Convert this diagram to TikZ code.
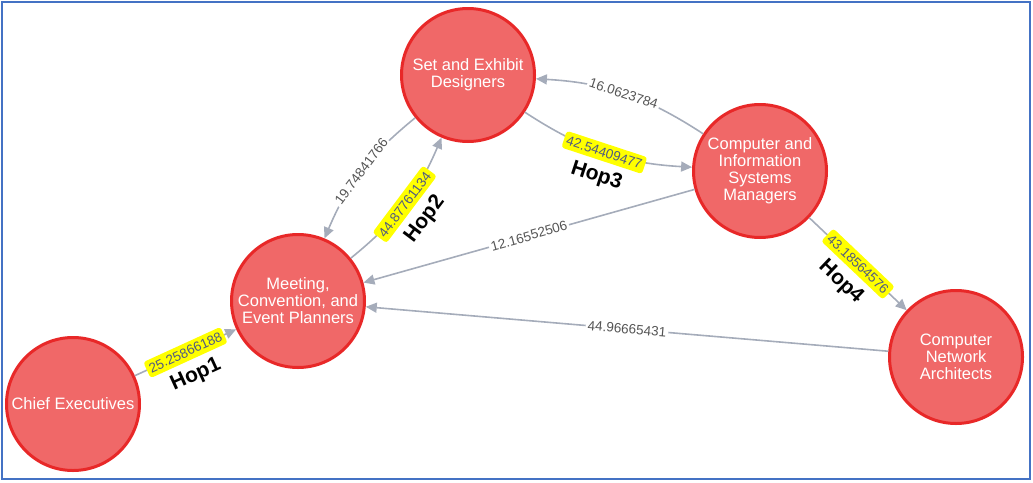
\documentclass[tikz,border=0pt]{standalone}
\usepackage{fontspec}
\setmainfont{Liberation Sans}
\usetikzlibrary{positioning,arrows.meta}
\usepackage{xcolor}
\definecolor{nodefill}{RGB}{240,104,104}
\definecolor{nodeline}{RGB}{232,40,40}
\definecolor{edgeline}{RGB}{165,172,186}
\definecolor{edgetext}{RGB}{85,85,85}
\definecolor{hoptext}{RGB}{80,90,130}
\definecolor{hopfill}{RGB}{255,255,0}
\definecolor{frameblue}{RGB}{68,114,196}

\tikzset{
  job/.style={circle, draw=nodeline, fill=nodefill, line width=3pt,
    minimum size=133pt, inner sep=0pt, text=white, align=center,
    font=\fontsize{16.5}{17}\selectfont},
  link/.style={draw=edgeline, line width=1.6pt, -{Triangle[length=11pt,width=10pt]}},
  weight/.style={sloped, fill=white, text=edgetext, inner sep=2pt,
    font=\fontsize{13.5}{13.5}\selectfont},
  hopweight/.style={sloped, fill=hopfill, text=hoptext, rounded corners=3pt,
    inner xsep=3pt, inner ysep=4pt, font=\fontsize{13.5}{13.5}\selectfont},
  hoptag/.style={sloped, below=15pt, inner sep=0pt,
    font=\fontsize{21}{21}\selectfont\bfseries}
}

\begin{document}
\begin{tikzpicture}[x=1pt, y=-1pt]
\useasboundingbox (0,0) rectangle (1033,482);
\draw[frameblue, line width=1.5pt] (2,2) rectangle (1030,479);

% occupations
\node[job] (chief) at (73,404) {Chief Executives};
\node[job] (meeting) at (298,301) {Meeting,\\Convention, and\\Event Planners};
\node[job] (set) at (468,75) {Set and Exhibit\\Designers};
\node[job] (managers) at (760,171) {Computer and\\Information\\Systems\\Managers};
\node[job] (architects) at (956,357) {Computer\\Network\\Architects};

% weighted links, the path hops in yellow
\draw[link] (chief) -- node[hopweight] {25.25866188} node[hoptag] {Hop1} (meeting);
\draw[link] (set) to[bend right=14] node[weight] {19.74841766} (meeting);
\draw[link] (meeting) to[bend right=14] node[hopweight] {44.87761134} node[hoptag] {Hop2} (set);
\draw[link] (managers) to[bend right=15] node[weight] {16.0623784} (set);
\draw[link] (set) to[bend right=15] node[hopweight] {42.54409477} node[hoptag] {Hop3} (managers);
\draw[link] (managers) -- node[weight] {12.16552506} (meeting);
\draw[link] (managers) -- node[hopweight] {43.18564576} node[hoptag] {Hop4} (architects);
\draw[link] (architects) -- node[weight] {44.96665431} (meeting);
\end{tikzpicture}
\end{document}
